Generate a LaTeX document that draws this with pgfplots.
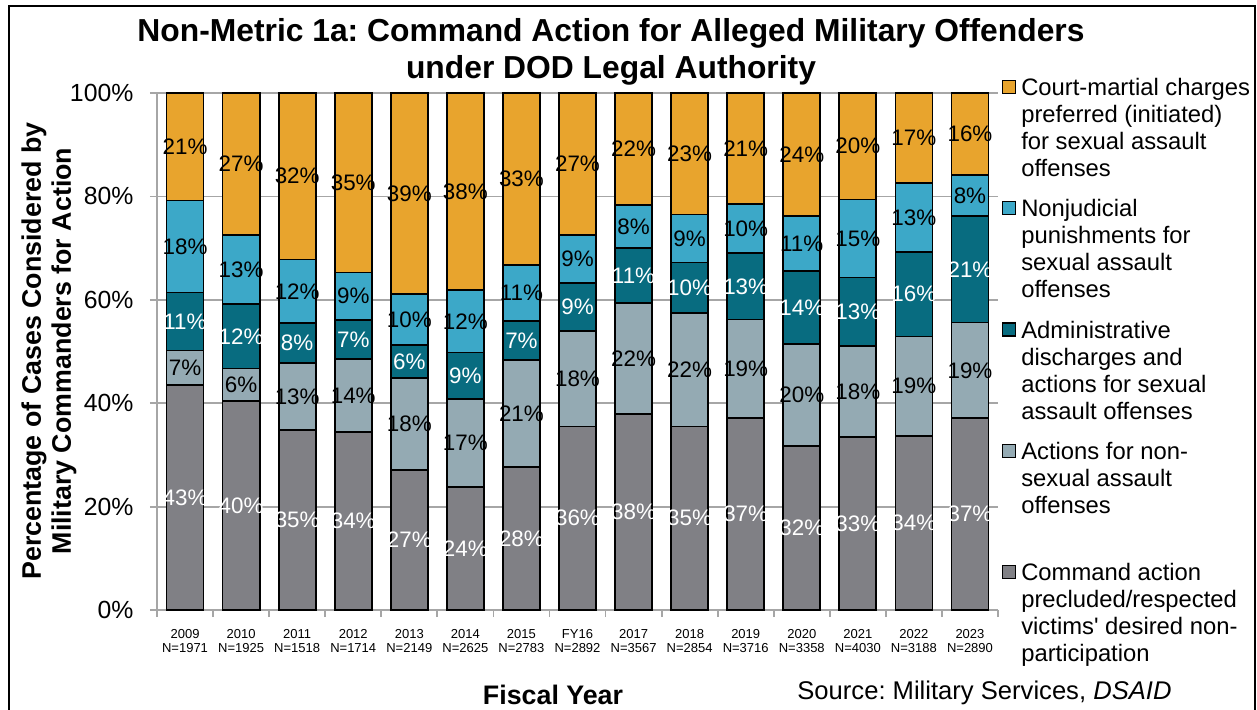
\documentclass[border=0pt]{standalone}
\usepackage{fontspec}
\setmainfont{Liberation Sans}
\usepackage{pgfplots}
\usepackage{pgfplotstable}
\pgfplotsset{compat=1.18}

\definecolor{cOrange}{HTML}{E8A42D}
\definecolor{cBlue}{HTML}{3CA8C8}
\definecolor{cTeal}{HTML}{086C80}
\definecolor{cLGrey}{HTML}{94AAB3}
\definecolor{cDGrey}{HTML}{808085}
\definecolor{cGrid}{HTML}{A6A6A6}

% shares (%) per fiscal year, bottom to top; *l columns = printed labels
\pgfplotstableread{
x  g    lg   t    b    o    gl lgl tl bl ol
0  43.5 6.7  11.2 17.8 20.8 43 7   11 18 21
1  40.4 6.3  12.5 13.3 27.5 40 6   12 13 27
2  34.8 12.9 7.8  12.3 32.2 35 13  8  12 32
3  34.4 14.1 7.6  9.2  34.7 34 14  7  9  35
4  27.1 17.7 6.5  9.8  38.9 27 18  6  10 39
5  23.8 17.0 9.0  12.1 38.1 24 17  9  12 38
6  27.6 20.8 7.5  10.8 33.3 28 21  7  11 33
7  35.5 18.5 9.2  9.3  27.5 36 18  9  9  27
8  37.9 21.5 10.6 8.3  21.7 38 22  11 8  22
9  35.5 22.0 9.7  9.3  23.5 35 22  10 9  23
10 37.1 19.1 12.8 9.5  21.5 37 19  13 10 21
11 31.7 19.7 14.2 10.6 23.8 32 20  14 11 24
12 33.4 17.7 13.2 15.1 20.6 33 18  13 15 20
13 33.7 19.2 16.4 13.3 17.4 34 19  16 13 17
14 37.1 18.5 20.6 7.9  15.9 37 19  21 8  16
}\data

\newcommand\barfont{\fontsize{11.2}{13}\selectfont}

\pgfplotsset{
  seg/.style 2 args={
    fill=#1, draw=black, line width=0.9pt,
    point meta=explicit symbolic,
    nodes near coords={\pgfplotspointmeta\%},
    every node near coord/.style={text=#2, anchor=center, font=\barfont},
  },
}

\begin{document}
\frenchspacing
\begin{tikzpicture}
\useasboundingbox (0,0) rectangle (628.5pt,354.5pt);
\draw[line width=1pt] (4.5pt,-3pt) rectangle (627.5pt,351.6pt);

\begin{axis}[
  at={(78.5pt,49.5pt)}, anchor=south west,
  width=420.5pt, height=258.5pt, scale only axis,
  ybar stacked, bar width=0.66,
  xmin=-0.5, xmax=14.5, ymin=0, ymax=100,
  enlargelimits=false, clip=false,
  axis lines=left,
  axis line style={-, draw=cGrid, line width=1pt},
  tick align=outside, major tick length=3.5pt,
  tick style={draw=cGrid, line width=0.9pt},
  ytick={0,20,...,100},
  yticklabel={\pgfmathprintnumber{\tick}\%},
  /pgf/number format/assume math mode=true,
  yticklabel style={font=\fontsize{12.4}{14}\selectfont, anchor=east, inner sep=0pt, xshift=-8.1pt},
  xtick={-0.5,0.5,...,14.5},
  x tick label as interval,
  xticklabels={{2009\\N=1971},{2010\\N=1925},{2011\\N=1518},{2012\\N=1714},
    {2013\\N=2149},{2014\\N=2625},{2015\\N=2783},{FY16\\N=2892},{2017\\N=3567},
    {2018\\N=2854},{2019\\N=3716},{2020\\N=3358},{2021\\N=4030},{2022\\N=3188},
    {2023\\N=2890}},
  xticklabel style={font=\fontsize{6.5}{7.2}\selectfont, align=center, anchor=north, inner sep=0pt, yshift=-6pt},
  ymajorgrids, grid style={draw=cGrid, line width=0.9pt},
  reverse legend,
  legend image code/.code={\draw[#1, line width=0.6pt] (0pt,1pt) rectangle (6.5pt,7.5pt);},
  legend style={draw=none, fill=none, inner sep=0pt,
    at={(1.0044,1.0327)}, anchor=north west,
    font=\fontsize{11.9}{13.5}\selectfont,
    row sep=6.65pt, column sep=2.5pt,
    cells={anchor=base west},
    nodes={inner sep=0pt, text depth=}},
]
\addplot[seg={cDGrey}{white}]  table[x=x, y=g,  meta=gl]  {\data};
\addplot[seg={cLGrey}{black}]  table[x=x, y=lg, meta=lgl] {\data};
\addplot[seg={cTeal}{white}]   table[x=x, y=t,  meta=tl]  {\data};
\addplot[seg={cBlue}{black}]   table[x=x, y=b,  meta=bl]  {\data};
\addplot[seg={cOrange}{black}] table[x=x, y=o,  meta=ol]  {\data};
\legend{
  {\parbox[t]{122pt}{\strut Command action\\precluded/respected\\victims\textquotesingle{} desired non-\\participation\strut}},
  {\parbox[t]{122pt}{\strut Actions for non-\\sexual assault\\offenses\\\strut}},
  {\parbox[t]{122pt}{\strut Administrative\\discharges and\\actions for sexual\\assault offenses\strut}},
  {\parbox[t]{122pt}{\strut Nonjudicial\\punishments for\\sexual assault\\offenses\strut}},
  {\parbox[t]{122pt}{\strut Court-martial charges\\preferred (initiated)\\for sexual assault\\offenses\strut}}}
\end{axis}

\node[anchor=base, font=\bfseries\fontsize{15.9}{18}\selectfont] at (305.5pt,333.65pt)
  {Non-Metric 1a: Command Action for Alleged Military Offenders};
\node[anchor=base, font=\bfseries\fontsize{15.9}{18}\selectfont] at (305.5pt,315.35pt)
  {under DOD Legal Authority};
\node[anchor=base, rotate=90, font=\bfseries\fontsize{13.4}{15}\selectfont] at (20.45pt,179pt)
  {Percentage of Cases Considered by};
\node[anchor=base, rotate=90, font=\bfseries\fontsize{13.4}{15}\selectfont] at (35.45pt,179pt)
  {Military Commanders for Action};
\node[anchor=base, font=\bfseries\fontsize{13.4}{15}\selectfont] at (276.5pt,2.5pt) {Fiscal Year};
\node[anchor=base west, inner sep=0pt, font=\fontsize{12.8}{14}\selectfont] at (398.5pt,5pt)
  {Source: Military Services, \textit{DSAID}};
\end{tikzpicture}
\end{document}
